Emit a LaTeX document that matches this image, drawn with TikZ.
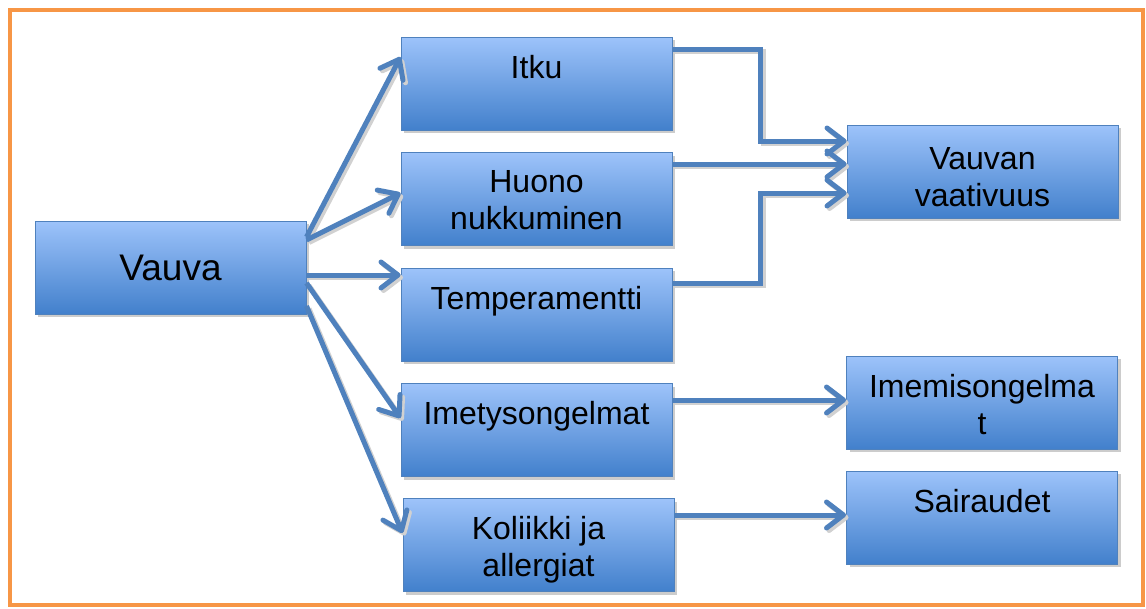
\documentclass[tikz,border=0pt]{standalone}
\usepackage{fontspec}
\setmainfont{Liberation Sans}
\usetikzlibrary{arrows.meta,shadows}

\definecolor{boxtop}{RGB}{157,195,250}
\definecolor{boxbot}{RGB}{66,128,204}
\definecolor{boxline}{RGB}{79,129,189}
\definecolor{framecol}{RGB}{247,150,70}

\newcommand{\boxtxt}[2][57pt]{\parbox[c][#1][t]{265pt}{\centering #2}}

\newcommand{\links}[1]{%
        \draw[#1] ([yshift=30.5pt]vauva.east) -- ([yshift=26.5pt]itku.west);
        \draw[#1] ([yshift=27.5pt]vauva.east) -- ([yshift=6pt]huono.west);
        \draw[#1] ([yshift=-7.5pt]vauva.east) -- ([yshift=39.5pt]temp.west);
        \draw[#1] ([yshift=-15.5pt]vauva.east) -- ([yshift=12pt]imety.west);
        \draw[#1] ([yshift=-38.5pt]vauva.east) -- ([yshift=12pt]koli.west);
        \draw[#1] ([yshift=34.5pt]itku.east) -- ++(88,0) |- ([yshift=30.5pt]vaat.west);
        \draw[#1] ([yshift=35pt]huono.east) -- ([yshift=7.5pt]vaat.west);
        \draw[#1] ([yshift=31.5pt]temp.east) -- ++(88,0) |- ([yshift=-21.5pt]vaat.west);
        \draw[#1] ([yshift=30pt]imety.east) -- ([yshift=2.5pt]imemis.west);
        \draw[#1] ([yshift=30pt]koli.east) -- ([yshift=2.5pt]sair.west);}

\begin{document}
\begin{tikzpicture}[x=1pt,y=-1pt,
        box/.style={draw=boxline,line width=1pt,top color=boxtop,bottom color=boxbot,
            minimum width=271pt,minimum height=93pt,inner sep=2pt,
            font=\fontsize{32}{37}\selectfont,
            drop shadow={shadow xshift=3pt,shadow yshift=-3pt,opacity=1,fill=black!20}},
        arr/.style={line width=5pt,
            -{Straight Barb[length=17pt,width=26pt,line width=5pt 0,round]}},
        arrblue/.style={arr,draw=boxline},
        arrgray/.style={arr,draw=black!18}]
        \useasboundingbox (0,0) rectangle (1146,608);
        \draw[framecol,line width=4.5pt] (10,10) rectangle (1143,605);

        \node[box,font=\fontsize{37}{42}\selectfont] (vauva) at (170.5,267.5) {Vauva};
        \node[box] (itku) at (536.5,83.5) {\boxtxt{Itku}};
        \node[box] (huono) at (536.5,199) {\boxtxt{Huono\\nukkuminen}};
        \node[box] (temp) at (536.5,314.5) {\boxtxt{Temperamentti}};
        \node[box] (imety) at (536.5,430) {\boxtxt{Imetysongelmat}};
        \node[box] (koli) at (538.5,545) {\boxtxt{Koliikki ja\\allergiat}};
        \node[box] (vaat) at (982.5,171.5) {\boxtxt[49pt]{Vauvan\\vaativuus}};
        \node[box] (imemis) at (982,402.5) {\boxtxt{Imemisongelma\\t}};
        \node[box] (sair) at (982,517.5) {\boxtxt{Sairaudet}};

        \begin{scope}[transform canvas={shift={(2.5pt,-2.5pt)}}]
            \links{arrgray}
        \end{scope}
        \links{arrblue}
\end{tikzpicture}
\end{document}
